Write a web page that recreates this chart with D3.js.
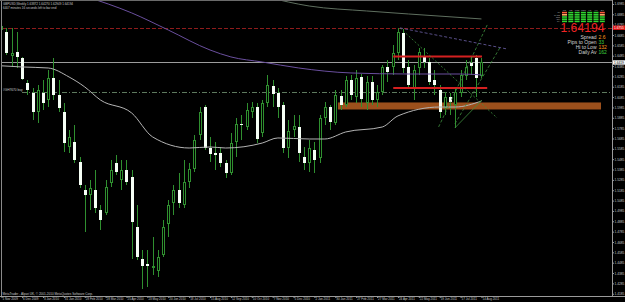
<!DOCTYPE html>
<html>
<head>
<meta charset="utf-8">
<script src="https://cdn.jsdelivr.net/npm/d3@7"></script>
<style>
html, body { margin: 0; padding: 0; background: #000; }
svg { display: block; font-family: "Liberation Sans", Arial, sans-serif; }
</style>
</head>
<body>
<svg id="chart" width="625" height="302"></svg>
<script>
// GBPUSD weekly, bar 0 = week of 1 Nov 2009
var opens = [1.6733,1.6714,1.6482,1.6521,1.6463,1.6221,1.6125,1.5941,1.6125,1.6057,1.6270,1.6105,1.5941,1.5603,1.5651,1.5458,1.5187,1.5139,1.5187,1.4994,
  1.4965,1.5255,1.5448,1.5284,1.5380,1.5313,1.4830,1.4520,1.4472,1.4433,1.4404,1.4559,1.4859,1.5062,1.5187,1.5043,1.5264,1.5390,1.5719,1.5989,
  1.5593,1.5545,1.5545,1.5448,1.5351,1.5651,1.5825,1.5796,1.5941,1.5989,1.5738,1.6028,1.6192,1.6125,1.6009,1.5593,1.5767,1.5796,1.5506,1.5448,
  1.5574,1.5497,1.5883,1.5989,1.5835,1.6095,1.6009,1.6250,1.6086,1.6279,1.6028,1.6231,1.6057,1.6134,1.6376,1.6376,1.6512,1.6704,1.6376,1.6173,
  1.6366,1.6483,1.6425,1.6250,1.6154,1.5980,1.6086,1.6009,1.6125,1.6289,1.6415,1.6463,1.6290];
var highs = [1.6849,1.6753,1.6753,1.6714,1.6473,1.6250,1.6173,1.6202,1.6250,1.6347,1.6463,1.6250,1.6028,1.5767,1.5815,1.5506,1.5236,1.5284,1.5380,1.5043,
  1.5284,1.5477,1.5526,1.5477,1.5477,1.5380,1.5043,1.4607,1.4607,1.4733,1.4607,1.4898,1.5091,1.5236,1.5351,1.5477,1.5448,1.5719,1.5989,1.6009,
  1.5700,1.5651,1.5603,1.5477,1.5738,1.5883,1.5912,1.6028,1.6038,1.6028,1.6057,1.6299,1.6250,1.6173,1.6038,1.5864,1.5912,1.5912,1.5603,1.5670,
  1.5651,1.5912,1.6038,1.6009,1.6154,1.6154,1.6289,1.6299,1.6347,1.6308,1.6289,1.6289,1.6202,1.6395,1.6444,1.6588,1.6753,1.6743,1.6444,1.6395,
  1.6560,1.6560,1.6463,1.6347,1.6202,1.6134,1.6125,1.6173,1.6347,1.6444,1.6473,1.6492,1.6463];
var lows = [1.6666,1.6492,1.6376,1.6366,1.6250,1.6105,1.5864,1.5835,1.5960,1.5989,1.6057,1.5941,1.5555,1.5545,1.5448,1.5207,1.4782,1.4994,1.4965,1.4801,
  1.4946,1.5216,1.5332,1.5187,1.5236,1.4520,1.4511,1.4231,1.4250,1.4366,1.4346,1.4540,1.4733,1.4946,1.5013,1.5013,1.5207,1.5361,1.5670,1.5574,
  1.5458,1.5380,1.5410,1.5303,1.5332,1.5506,1.5670,1.5767,1.5883,1.5641,1.5700,1.5989,1.5989,1.5883,1.5545,1.5497,1.5700,1.5458,1.5380,1.5361,
  1.5351,1.5448,1.5815,1.5767,1.5815,1.5960,1.5989,1.6057,1.6028,1.5989,1.5960,1.6009,1.5989,1.6105,1.6231,1.6299,1.6444,1.6318,1.6173,1.6057,
  1.6299,1.6366,1.6202,1.6105,1.5883,1.5912,1.5912,1.5784,1.6086,1.6250,1.6299,1.6086,1.6270];
var closes = [1.6772,1.6511,1.6511,1.6473,1.6260,1.6154,1.5941,1.6154,1.6028,1.6270,1.6105,1.5980,1.5641,1.5700,1.5477,1.5236,1.5139,1.5207,1.5013,1.4898,
  1.5216,1.5380,1.5361,1.5380,1.5264,1.4878,1.4540,1.4453,1.4453,1.4453,1.4540,1.4830,1.5043,1.5187,1.5062,1.5264,1.5390,1.5670,1.5941,1.5593,
  1.5535,1.5526,1.5448,1.5351,1.5641,1.5825,1.5815,1.5960,1.5989,1.5680,1.6028,1.6202,1.6115,1.5989,1.5593,1.5758,1.5806,1.5545,1.5448,1.5593,
  1.5477,1.5883,1.5989,1.5845,1.6105,1.6009,1.6250,1.6105,1.6270,1.6067,1.6231,1.6057,1.6134,1.6376,1.6327,1.6512,1.6714,1.6366,1.6202,1.6347,
  1.6521,1.6425,1.6231,1.6202,1.5941,1.6086,1.6038,1.6134,1.6299,1.6376,1.6386,1.6269,1.64194];
var firstBar = 1;

// moving averages (bar, price)
var greyMaBars = [0, 5, 10, 14, 17, 20, 26, 30, 37, 41, 44, 51, 54, 60, 63, 67, 74, 77, 85, 88, 93];
var greyMaVals = [1.6390, 1.6376, 1.6366, 1.6279, 1.6183, 1.6057, 1.5931, 1.5700, 1.5593, 1.5603, 1.5593, 1.5641, 1.5690, 1.5680, 1.5680, 1.5748, 1.5796, 1.5903, 1.5989, 1.5989, 1.6047];
var purpleMaBars = [17, 26, 33, 41, 45, 51, 58, 68, 79, 89, 93];
var purpleMaVals = [1.7060, 1.6898, 1.6733, 1.6540, 1.6473, 1.6424, 1.6366, 1.6318, 1.6308, 1.6308, 1.6299];
var olivMaBars = [52, 60, 71, 79, 93];
var olivMaVals = [1.7050, 1.6965, 1.6917, 1.6888, 1.6840];

// chart objects
var highLevel = 1.6755;
var bidPrice = 1.64194;
var orderPrice = 1.6130;
var zoneBars = [65.5, 115.9];
var zonePrices = [1.6033, 1.5965];
var redLevels = [1.6477, 1.6173];
var redStart = [76.1, 76.1];
var redEnd = [93.1, 94.1];
var trendStart = [[94.1, 1.6782], [96.5, 1.6559], [77.4, 1.6753], [87.9, 1.5787]];
var trendEnd = [[84.7, 1.5787], [87.9, 1.5825], [96.0, 1.5883], [93.1, 1.6057]];
var trendDash = ['3,2', '3,2', '2,2', null];
var fanStart = [77.4, 1.6753];
var fanEnd = [97.9, 1.6550];

var priceTicks = [1.6985,1.6885,1.6785,1.6685,1.6585,1.6485,1.6385,1.6285,1.6185,1.6085,1.5985,1.5885,1.5785,1.5685,1.5585,
  1.5485,1.5385,1.5285,1.5185,1.5085,1.4985,1.4885,1.4785,1.4685,1.4585,1.4485,1.4385,1.4285,1.4185];
var dateBars = [0, 5, 9, 13, 17, 21, 25, 29, 33, 37, 41, 45, 49, 53, 57, 61, 65, 69, 73, 77, 81, 85, 89, 93];
var dateLabels = ['1 Nov 2009','6 Dec 2009','3 Jan 2010','31 Jan 2010','28 Feb 2010','28 Mar 2010','25 Apr 2010','23 May 2010',
  '20 Jun 2010','18 Jul 2010','15 Aug 2010','12 Sep 2010','10 Oct 2010','7 Nov 2010','5 Dec 2010','2 Jan 2011','30 Jan 2011',
  '27 Feb 2011','27 Mar 2011','24 Apr 2011','22 May 2011','19 Jun 2011','17 Jul 2011','14 Aug 2011'];

// info panel
var tfLabels = ['M1', 'M5', 'M15', 'M30', 'H1', 'H4', 'D1'];
var rowLabels = ['SL', 'MACD', 'STR', 'ADX', 'MA'];
var cellColors = [
  ['#ff5a3c','#2fd22f','#2fd22f','#2fd22f','#2fd22f','#2fd22f','#ff5a3c'],
  ['#ffa860','#2fd22f','#2fd22f','#2fd22f','#2fd22f','#2fd22f','#ffa860'],
  ['#2fd22f','#2fd22f','#2fd22f','#2fd22f','#2fd22f','#2fd22f','#2fd22f'],
  ['#2fd22f','#2fd22f','#2fd22f','#2fd22f','#2fd22f','#2fd22f','#2fd22f'],
  ['#2fd22f','#2fd22f','#2fd22f','#2fd22f','#2fd22f','#2fd22f','#2fd22f']];
var statLabels = ['Spread', 'Pips to Open', 'Hi to Low', 'Daily Av'];
var statValues = ['2.6', '33', '132', '162'];
var statColors = ['#ff9a1a', '#3ccf3c', '#ff9a1a', '#3ccf3c'];

var svg = d3.select('#chart');
var plotRight = 612, plotBottom = 296;
var fontFam = '"Liberation Sans", Arial, sans-serif';

var x = d3.scaleLinear().domain([0, 94]).range([-4, -4 + 5.22 * 94]);
var y = d3.scaleLinear().domain([1.4221, 1.7023]).range([290, 0]);

svg.append('rect').attr('width', 625).attr('height', 302).attr('fill', '#000');
svg.append('defs').append('clipPath').attr('id', 'plot')
  .append('rect').attr('x', 2).attr('y', 1).attr('width', plotRight - 2).attr('height', plotBottom - 1);
var plot = svg.append('g').attr('clip-path', 'url(#plot)');

// support zone
plot.append('rect')
  .attr('x', x(zoneBars[0])).attr('y', y(zonePrices[0]))
  .attr('width', x(zoneBars[1]) - x(zoneBars[0]))
  .attr('height', y(zonePrices[1]) - y(zonePrices[0]))
  .attr('fill', '#9c501c');

// horizontal levels
plot.append('line').attr('x1', 2).attr('x2', plotRight)
  .attr('y1', Math.round(y(highLevel)) + 0.5).attr('y2', Math.round(y(highLevel)) + 0.5)
  .attr('stroke', '#8e1b1b').attr('stroke-dasharray', '4,2');
plot.append('line').attr('x1', 2).attr('x2', plotRight)
  .attr('y1', Math.round(y(bidPrice)) + 0.5).attr('y2', Math.round(y(bidPrice)) + 0.5)
  .attr('stroke', '#9c9c9c');
plot.append('line').attr('x1', 22).attr('x2', plotRight)
  .attr('y1', Math.round(y(orderPrice)) + 0.5).attr('y2', Math.round(y(orderPrice)) + 0.5)
  .attr('stroke', '#5e7a5e').attr('stroke-dasharray', '5,2,1,2');

// candles
var bars = d3.range(opens.length).map(function(k) {
  return { i: k + firstBar, o: opens[k], h: highs[k], l: lows[k], c: closes[k] };
});
var wickColor = '#2f8f2f';
var candle = plot.append('g').selectAll('g').data(bars).enter().append('g');
candle.append('line')
  .attr('x1', function(d) { return Math.round(x(d.i)) + 0.5; })
  .attr('x2', function(d) { return Math.round(x(d.i)) + 0.5; })
  .attr('y1', function(d) { return Math.round(y(d.h)); })
  .attr('y2', function(d) { return Math.round(y(d.l)); })
  .attr('stroke', wickColor);
candle.each(function(d) {
  var g = d3.select(this);
  var cx = Math.round(x(d.i));
  var top = Math.round(y(Math.max(d.o, d.c)));
  var bot = Math.round(y(Math.min(d.o, d.c)));
  if (d.c < d.o) {
    g.append('rect').attr('x', cx - 1).attr('y', top).attr('width', 3)
      .attr('height', Math.max(1, bot - top)).attr('fill', '#f6fff6');
  } else {
    g.append('rect').attr('x', cx - 0.5).attr('y', top + 0.5).attr('width', 2)
      .attr('height', Math.max(0, bot - top - 1)).attr('fill', '#000')
      .attr('stroke', wickColor);
  }
});

// moving averages
function maLine(barsArr, vals) {
  return d3.line().curve(d3.curveMonotoneX)
    .x(function(d, k) { return x(barsArr[k]); })
    .y(function(d) { return y(d); })(vals);
}
plot.append('path').attr('d', maLine(greyMaBars, greyMaVals)).attr('fill', 'none').attr('stroke', '#b4b4b4');
plot.append('path').attr('d', maLine(purpleMaBars, purpleMaVals)).attr('fill', 'none').attr('stroke', '#6a4f9e');
plot.append('path').attr('d', maLine(olivMaBars, olivMaVals)).attr('fill', 'none').attr('stroke', '#5f6f5f');

// red range lines
redLevels.forEach(function(p, k) {
  plot.append('line').attr('x1', x(redStart[k])).attr('x2', x(redEnd[k]))
    .attr('y1', y(p)).attr('y2', y(p)).attr('stroke', '#d42020').attr('stroke-width', 2);
});

// trend lines
trendStart.forEach(function(s, k) {
  plot.append('line').attr('x1', x(s[0])).attr('y1', y(s[1]))
    .attr('x2', x(trendEnd[k][0])).attr('y2', y(trendEnd[k][1]))
    .attr('stroke', '#3f8f3f').attr('stroke-width', 0.8)
    .attr('stroke-dasharray', trendDash[k]);
});
plot.append('line').attr('x1', x(fanStart[0])).attr('y1', y(fanStart[1]))
  .attr('x2', x(fanEnd[0])).attr('y2', y(fanEnd[1]))
  .attr('stroke', '#6f62aa').attr('stroke-width', 0.8).attr('stroke-dasharray', '3,2');

// frame
svg.append('line').attr('x1', 1.5).attr('x2', 1.5).attr('y1', 0).attr('y2', plotBottom).attr('stroke', '#8a8a8a');
svg.append('line').attr('x1', 0).attr('x2', plotRight).attr('y1', 0.5).attr('y2', 0.5).attr('stroke', '#6a6a6a');
svg.append('line').attr('x1', plotRight + 0.5).attr('x2', plotRight + 0.5).attr('y1', 0).attr('y2', plotBottom).attr('stroke', '#9a9a9a');
svg.append('line').attr('x1', 0).attr('x2', 625).attr('y1', plotBottom + 0.5).attr('y2', plotBottom + 0.5).attr('stroke', '#9a9a9a');

// price axis
var yAxis = d3.axisRight(y).tickValues(priceTicks).tickSize(1.5).tickSizeOuter(0).tickPadding(0.5)
  .tickFormat(d3.format('.4f'));
var gy = svg.append('g').attr('transform', 'translate(' + (plotRight + 0.5) + ',0)').call(yAxis)
  .attr('font-size', 3.2).attr('font-family', fontFam);
gy.select('.domain').remove();
gy.selectAll('line').attr('stroke', '#9a9a9a');
gy.selectAll('text').attr('fill', '#c8c8c8');

// price tags on the axis
function tag(p, bg, fg) {
  var yy = y(p);
  svg.append('rect').attr('x', plotRight + 1).attr('y', yy - 2.2).attr('width', 12).attr('height', 4.4).attr('fill', bg);
  svg.append('text').attr('x', plotRight + 2).attr('y', yy + 1.1).attr('font-size', 3.2)
    .attr('fill', fg).text(d3.format('.4f')(p));
}
tag(highLevel, '#e01414', '#fff');
tag(bidPrice, '#f4f4f4', '#000');

// time axis
var xAxis = d3.axisBottom(x).tickValues(dateBars).tickSize(1.5).tickSizeOuter(0).tickPadding(0)
  .tickFormat(function(d, k) { return dateLabels[k]; });
var gx = svg.append('g').attr('transform', 'translate(0,' + (plotBottom + 0.5) + ')').call(xAxis)
  .attr('font-size', 3).attr('font-family', fontFam);
gx.select('.domain').remove();
gx.selectAll('line').attr('stroke', '#9a9a9a');
gx.selectAll('text').attr('fill', '#c8c8c8').attr('text-anchor', 'start').attr('x', 0.5).attr('y', 1.4);
gx.selectAll('.tick').filter(function(d) { return x(d) < 2; }).attr('transform', 'translate(2,0)');

// texts
var small = svg.append('g').attr('fill', '#c8c8c8').attr('font-size', 3);
small.append('text').attr('x', 3).attr('y', 4.6).text('GBPUSD,Weekly  1.63872 1.64270 1.62949 1.64194');
small.append('text').attr('x', 3).attr('y', 8.6).text('6407 minutes 16 seconds left to bar end');
small.append('text').attr('x', 3).attr('y', 91.4).attr('font-size', 3.2).text('#GH7670 buy');
small.append('text').attr('x', 2.5).attr('y', 294.8).attr('font-size', 3.1)
  .text('MetaTrader - Alpari UK, \u00a9 2001-2010 MetaQuotes Software Corp.');

// info panel
var panel = svg.append('g');
tfLabels.forEach(function(t, c) {
  panel.append('text').attr('x', 564.5 + c * 6.3).attr('y', 10.6).attr('font-size', 2.4)
    .attr('text-anchor', 'middle').attr('fill', '#bdbdbd').text(t);
});
rowLabels.forEach(function(t, r) {
  panel.append('text').attr('x', 560).attr('y', 13.4 + r * 2.2).attr('font-size', 2)
    .attr('text-anchor', 'end').attr('fill', '#bdbdbd').text(t);
});
cellColors.forEach(function(row, r) {
  row.forEach(function(col, c) {
    panel.append('rect').attr('x', 562 + c * 6.3).attr('y', 11.8 + r * 2.2)
      .attr('width', 5).attr('height', 1.6).attr('fill', col);
  });
});
panel.append('text').attr('x', 604.5).attr('y', 32.4).attr('font-size', 12.2)
  .attr('text-anchor', 'end').attr('fill', '#f02424').text(bidPrice.toFixed(5));
statLabels.forEach(function(t, k) {
  panel.append('text').attr('x', 596.5).attr('y', 39.2 + k * 5).attr('font-size', 5)
    .attr('text-anchor', 'end').attr('fill', '#d4d4d4').text(t);
  panel.append('text').attr('x', 598.5).attr('y', 39.2 + k * 5).attr('font-size', 5)
    .attr('fill', statColors[k]).text(statValues[k]);
});
</script>
</body>
</html>
